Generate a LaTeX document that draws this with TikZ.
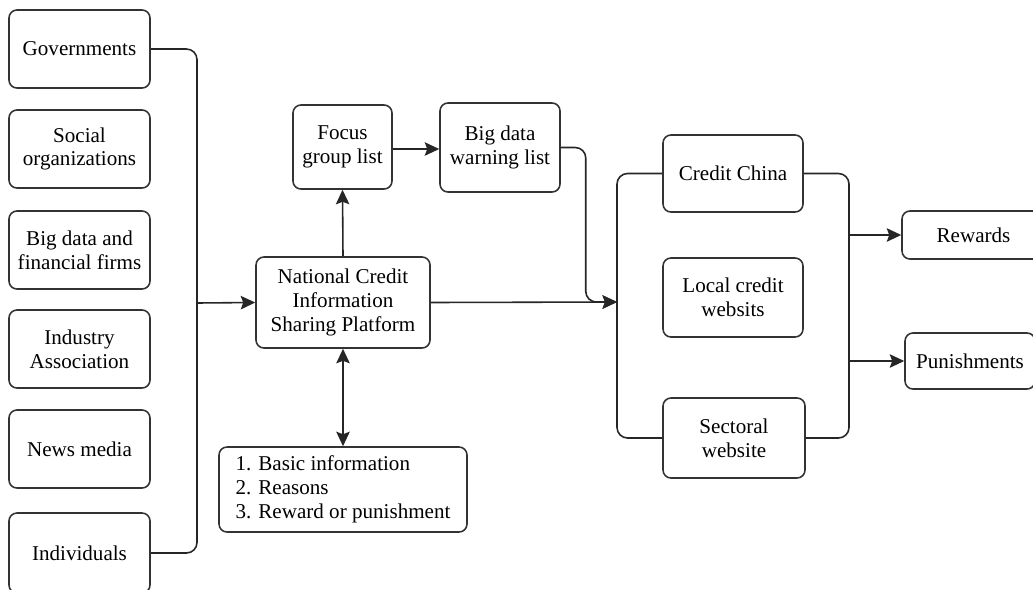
\documentclass[tikz,border=0pt]{standalone}
\usepackage{fontspec}
\setmainfont{Liberation Serif}
\usetikzlibrary{arrows.meta}
\tikzset{
  box/.style={draw=black!80, line width=0.9pt, rounded corners=4.5pt, align=center,
    font=\fontsize{12}{13.5}\selectfont, inner sep=2pt},
  link/.style={draw=black!85, line width=0.9pt},
  arr/.style={link, -{Stealth[length=2.9mm,width=2.7mm,inset=0.5mm]}}
}
\begin{document}
\begin{tikzpicture}[x=0.02cm, y=-0.02cm]
\useasboundingbox (0,0) rectangle (1033,589);

 % sources
 \node[box, minimum width=2.82cm, minimum height=1.56cm] (gov) at (79.5,49) {Governments};
 \node[box, minimum width=2.82cm, minimum height=1.56cm] (soc) at (79.5,149) {Social\\organizations};
 \node[box, minimum width=2.82cm, minimum height=1.56cm] (firm) at (79.5,250) {Big data and\\financial firms};
 \node[box, minimum width=2.82cm, minimum height=1.56cm] (assoc) at (79.5,349) {Industry\\Association};
 \node[box, minimum width=2.82cm, minimum height=1.56cm] (news) at (79.5,449) {News media};
 \node[box, minimum width=2.82cm, minimum height=1.6cm] (indiv) at (79.5,553) {Individuals};

 % platform and lists
 \node[box, minimum width=3.48cm, minimum height=1.82cm] (nat) at (343,302.5) {National Credit\\Information\\Sharing Platform};
 \node[box, minimum width=1.98cm, minimum height=1.68cm] (focus) at (342.5,147) {Focus\\group list};
 \node[box, minimum width=2.4cm, minimum height=1.78cm] (warn) at (500,147.5) {Big data\\warning list};
 \node[box, minimum width=4.96cm, minimum height=1.7cm, align=left] (info) at (343,489.5)
   {1. Basic information\\2. Reasons\\3. Reward or punishment};

 % websites
 \node[box, minimum width=2.8cm, minimum height=1.54cm] (cc) at (733,173.5) {Credit China};
 \node[box, minimum width=2.8cm, minimum height=1.58cm] (local) at (733,297.5) {Local credit\\websits};
 \node[box, minimum width=2.84cm, minimum height=1.6cm] (sect) at (734,438) {Sectoral\\website};

 % outcomes
 \node[box, minimum width=2.86cm, minimum height=0.96cm] (rew) at (973.5,235) {Rewards};
 \node[box, minimum width=2.6cm, minimum height=1.12cm] (pun) at (970,361) {Punishments};

 \coordinate (lbus) at (197,303);
 \coordinate (rin) at (617,302);
 \coordinate (rout) at (849,302);

 \draw[link, rounded corners=6pt] (gov.east) -| (lbus) |- (indiv.east);
 \draw[arr] (lbus) -- (nat.west);
 \draw[arr] (nat.north) -- (focus.south);
 \draw[arr] (focus.east |- 0,149) -- (warn.west |- 0,149);
 \draw[arr, rounded corners=6pt] (warn.east) -- ++(25,0) |- (rin);
 \draw[arr] (nat.east) -- (rin);
 \draw[link, {Stealth[length=2.9mm,width=2.7mm,inset=0.5mm]}-{Stealth[length=2.9mm,width=2.7mm,inset=0.5mm]}] (nat.south) -- (info.north);

 \draw[link, rounded corners=6pt] (cc.west) -| (rin) |- (sect.west);
 \draw[link, rounded corners=6pt] (cc.east) -| (rout) |- (sect.east);
 \draw[arr] (rew.west -| rout) -- (rew.west);
 \draw[arr] (pun.west -| rout) -- (pun.west);
\end{tikzpicture}
\end{document}
